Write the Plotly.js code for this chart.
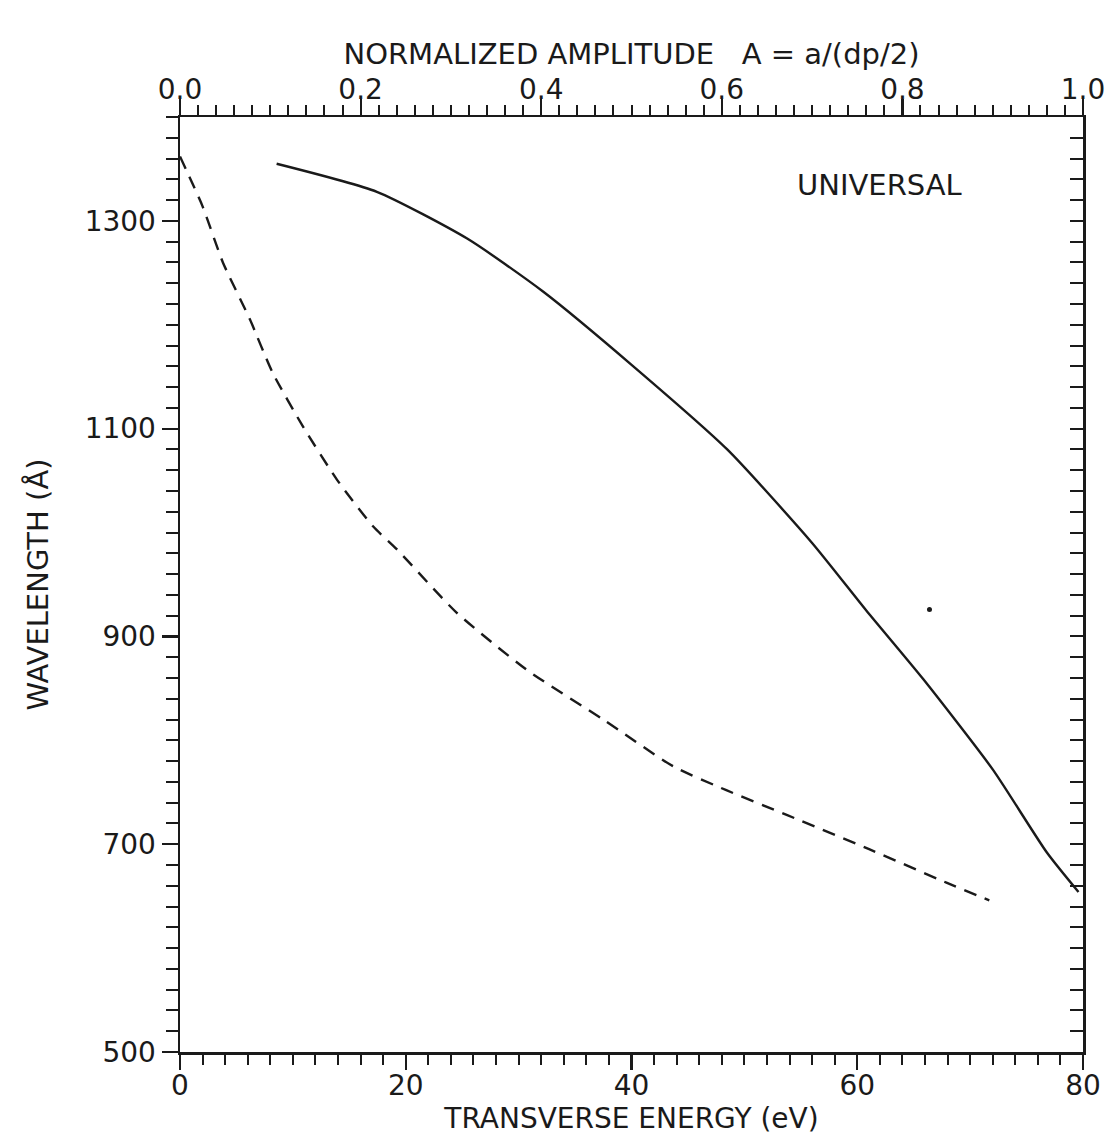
<!DOCTYPE html>
<html>
<head>
<meta charset="utf-8">
<script src="https://cdn.plot.ly/plotly-3.0.1.min.js"></script>
<style>html,body{margin:0;padding:0;background:#fff;}#chart{width:1107px;height:1140px;}</style>
</head>
<body>
<div id="chart"></div>
<script>
// Dashed curve: wavelength vs transverse energy (eV), bottom axis
const energyEV = [0, 2.0, 3.8, 6.2, 8.2, 10.9, 13.9, 17.1, 19.2, 24.5, 30.7, 37.5, 43.7, 48.4, 53.8, 61.1, 67.9, 71.7];
const wavelengthVsEnergy = [1362, 1314, 1260, 1205, 1154, 1102, 1051, 1006, 984, 923, 868, 820, 775, 752, 728, 695, 663, 646];

// Solid curve: wavelength vs normalized amplitude A, top axis
const amplitudeA = [0.107, 0.218, 0.318, 0.402, 0.502, 0.606, 0.70, 0.76, 0.823, 0.900, 0.960, 0.995];
const wavelengthVsAmplitude = [1355, 1328, 1283, 1232, 1160, 1080, 990, 925, 859, 772, 692, 654];

// Isolated dot in the plot
const dotEnergy = [66.4];
const dotWavelength = [926];

const bottomTicks = [0, 20, 40, 60, 80];
const topTicks = [0.0, 0.2, 0.4, 0.6, 0.8, 1.0];
const leftTicks = [500, 700, 900, 1100, 1300];

const ink = '#1a1a1a';
const fontFam = 'DejaVu Sans, sans-serif';

const traces = [
  {
    x: energyEV, y: wavelengthVsEnergy, xaxis: 'x', yaxis: 'y',
    mode: 'lines', line: {color: ink, width: 2.4, dash: '13px,9px', shape: 'spline', smoothing: 0.6},
    hoverinfo: 'skip'
  },
  {
    x: amplitudeA, y: wavelengthVsAmplitude, xaxis: 'x2', yaxis: 'y2',
    mode: 'lines', line: {color: ink, width: 2.4, shape: 'spline', smoothing: 0.6},
    hoverinfo: 'skip'
  },
  {
    x: dotEnergy, y: dotWavelength, xaxis: 'x', yaxis: 'y',
    mode: 'markers', marker: {color: ink, size: 5},
    hoverinfo: 'skip'
  }
];

const layout = {
  width: 1107, height: 1140,
  margin: {l: 180, r: 24, t: 117, b: 88, pad: 0},
  paper_bgcolor: '#fff', plot_bgcolor: '#fff',
  showlegend: false,
  font: {family: fontFam, color: ink, size: 28},
  xaxis: {
    range: [0, 80], tickvals: bottomTicks, ticktext: bottomTicks.map(String),
    ticks: 'outside', ticklen: 15, tickwidth: 2.2, tickcolor: ink,
    minor: {dtick: 2, tick0: 0, ticks: 'outside', ticklen: 10, tickwidth: 2, tickcolor: ink, showgrid: false},
    showline: true, linewidth: 2.5, linecolor: ink, showgrid: false, zeroline: false,
    ticklabelstandoff: -8,
    tickfont: {size: 28, family: fontFam, color: ink},
    title: {text: 'TRANSVERSE ENERGY (eV)', font: {size: 28, family: fontFam, color: ink}, standoff: 0}
  },
  xaxis2: {
    overlaying: 'x', side: 'top', anchor: 'y',
    range: [0, 1], tickvals: topTicks, ticktext: topTicks.map(v => v.toFixed(1)),
    ticks: 'outside', ticklen: 16, tickwidth: 2.2, tickcolor: ink,
    minor: {dtick: 0.02, tick0: 0, ticks: 'outside', ticklen: 10, tickwidth: 2, tickcolor: ink, showgrid: false},
    showline: true, linewidth: 2.5, linecolor: ink, showgrid: false, zeroline: false,
    ticklabelstandoff: -12,
    tickfont: {size: 28, family: fontFam, color: ink},
    title: {text: 'NORMALIZED AMPLITUDE   A = a/(dp/2)', font: {size: 29, family: fontFam, color: ink}, standoff: 0}
  },
  yaxis: {
    range: [500, 1400], tickvals: leftTicks, ticktext: leftTicks.map(String),
    ticks: 'outside', ticklen: 16, tickwidth: 2.2, tickcolor: ink,
    minor: {dtick: 20, tick0: 500, ticks: 'outside', ticklen: 12, tickwidth: 2, tickcolor: ink, showgrid: false},
    showline: true, linewidth: 2.5, linecolor: ink, showgrid: false, zeroline: false,
    tickfont: {size: 28, family: fontFam, color: ink},
    title: {text: 'WAVELENGTH (Å)', font: {size: 29, family: fontFam, color: ink}, standoff: 28}
  },
  yaxis2: {
    overlaying: 'y', side: 'right', anchor: 'x',
    range: [500, 1400], dtick: 20, tick0: 500,
    ticks: 'inside', ticklen: 13, tickwidth: 2, tickcolor: ink,
    showticklabels: false,
    showline: true, linewidth: 2.5, linecolor: ink, showgrid: false, zeroline: false
  },
  annotations: [
    {text: 'UNIVERSAL', xref: 'x', yref: 'y', x: 62, y: 1335, xanchor: 'center', yanchor: 'middle',
     showarrow: false, font: {size: 29, family: fontFam, color: ink}}
  ]
};

Plotly.newPlot('chart', traces, layout, {staticPlot: true, displayModeBar: false});
</script>
</body>
</html>
